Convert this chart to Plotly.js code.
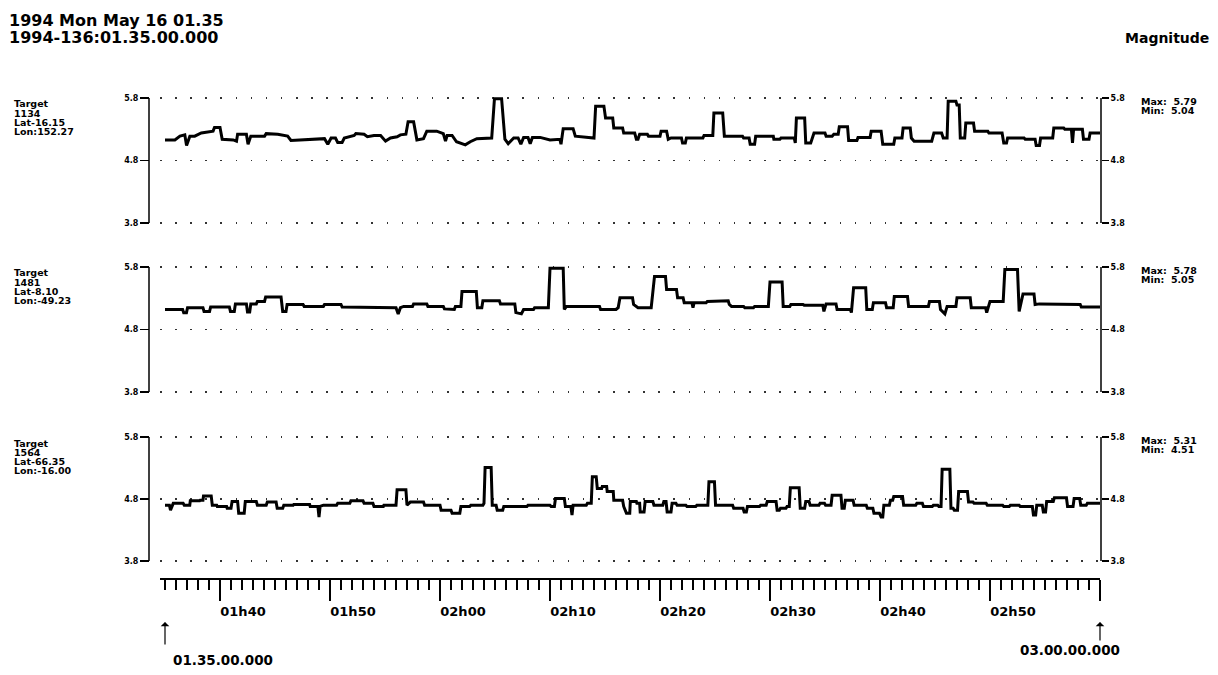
<!DOCTYPE html>
<html><head><meta charset="utf-8">
<script src="https://cdn.plot.ly/plotly-3.0.1.min.js"></script>
<style>html,body{margin:0;padding:0;background:#fff}#chart{width:1218px;height:675px}</style>
</head><body><div id="chart"></div>
<script>
const W = 1218, H = 675;

// ---- data: minutes after 01:35 and magnitude ----
const t1 = [0,0.9,1.36,1.8,1.96,2.26,2.7,3.3,4.37,4.5,5.0,5.2,6.2,6.5,6.6,7.4,7.55,7.8,9.05,9.2,10.25,11.15,11.45,14.5,14.8,15.1,15.5,15.7,16.1,16.3,17.2,17.35,18.1,18.4,19.0,19.6,20.05,20.5,21.1,21.4,21.9,22.1,22.6,22.9,23.5,23.8,24.7,25.3,25.5,25.65,26.1,26.5,27.3,27.75,28.35,29.7,29.95,30.6,30.9,31.2,31.7,32.1,32.35,32.6,33.0,33.2,33.4,34.1,35.0,
  35.9,36.0,36.2,37.1,37.3,39.0,39.15,39.9,40.05,40.7,40.8,41.6,41.7,42.7,42.85,43.0,43.15,43.85,43.95,45.0,45.1,45.6,45.75,46.0,46.95,47.05,47.3,47.4,48.9,49.0,49.8,49.9,50.7,50.85,52.5,52.6,53.1,53.2,53.6,53.7,55.3,55.35,55.9,56.0,57.2,57.3,57.4,58.15,58.25,58.7,59.0,60.0,60.1,60.65,60.8,61.2,61.3,62.05,62.15,62.9,63.0,64.1,64.2,65.1,65.25,66.25,66.35,67.0,67.1,67.75,67.85,68.1,69.7,69.9,70.6,70.75,71.1,71.2,71.9,72.0,72.2,72.3,72.7,72.8,73.5,73.6,74.8,74.9,76.1,76.25,76.5,76.6,78.1,78.2,79.1,79.2,79.5,79.6,80.7,80.8,81.7,81.8,82.4,82.5,82.6,83.4,83.5,84.0,84.1,85.0];
const mag1 = [5.13,5.13,5.19,5.21,5.04,5.19,5.19,5.24,5.27,5.33,5.33,5.14,5.13,5.11,5.22,5.22,5.06,5.19,5.19,5.23,5.22,5.19,5.12,5.15,5.06,5.16,5.16,5.09,5.09,5.16,5.2,5.23,5.22,5.18,5.2,5.2,5.11,5.16,5.18,5.21,5.22,5.42,5.42,5.13,5.15,5.27,5.27,5.23,5.11,5.2,5.2,5.1,5.05,5.1,5.15,5.16,5.79,5.79,5.14,5.07,5.16,5.16,5.06,5.17,5.17,5.07,5.17,5.17,5.13,
  5.14,5.06,5.31,5.31,5.19,5.16,5.67,5.67,5.48,5.48,5.32,5.32,5.24,5.24,5.14,5.14,5.22,5.22,5.19,5.19,5.27,5.27,5.14,5.16,5.16,5.08,5.08,5.16,5.16,5.2,5.2,5.56,5.56,5.19,5.19,5.16,5.16,5.06,5.06,5.19,5.19,5.14,5.14,5.16,5.16,5.08,5.48,5.48,5.08,5.08,5.24,5.24,5.19,5.19,5.22,5.22,5.34,5.34,5.12,5.12,5.17,5.17,5.27,5.27,5.06,5.06,5.16,5.16,5.32,5.32,5.16,5.11,5.11,5.24,5.24,5.16,5.16,5.75,5.75,5.69,5.69,5.16,5.16,5.4,5.4,5.27,5.27,5.24,5.24,5.08,5.08,5.16,5.16,5.14,5.14,5.04,5.04,5.16,5.16,5.32,5.32,5.3,5.3,5.08,5.3,5.3,5.14,5.14,5.24,5.24];

const t2 = [0,1.6,1.7,1.95,2.05,3.45,3.55,4.05,4.15,5.85,5.95,6.3,6.4,7.4,7.5,7.7,7.8,8.3,8.4,9.05,9.15,10.55,10.7,11.0,11.1,12.55,12.65,14.4,14.5,16.0,16.1,18.6,18.7,21.0,21.2,21.4,21.7,22.5,22.6,23.8,23.9,25.3,25.4,26.3,26.4,26.9,27.0,28.3,28.4,28.8,28.9,30.4,30.5,31.8,31.9,32.4,32.6,33.5,33.6,34.85,35.0,36.2,36.3,36.5,39.5,39.6,41.0,41.2,41.36,42.5,42.6,43.0,44.2,44.5,45.5,45.6,46.5,46.6,47.1,47.2,47.9,48.0,48.1,49.2,49.3,50.2,50.3,51.2,51.3,51.5,52.6,52.7,53.5,53.6,54.85,55.0,56.1,56.2,56.8,56.9,58.0,58.1,59.8,59.9,60.1,61.0,61.1,62.3,62.4,62.6,63.7,63.8,64.3,64.4,65.5,65.6,66.2,66.3,67.5,67.6,69.4,69.5,70.4,70.5,70.9,71.1,71.9,72.0,73.2,73.3,74.6,74.7,75.0,76.2,76.35,77.5,77.65,78.0,79.0,79.1,79.5,82.3,82.4,83.2,83.3,85.0];
const mag2 = [5.12,5.12,5.07,5.07,5.15,5.15,5.09,5.09,5.16,5.16,5.09,5.09,5.21,5.21,5.08,5.08,5.21,5.21,5.25,5.25,5.32,5.32,5.09,5.09,5.2,5.2,5.17,5.17,5.2,5.2,5.16,5.16,5.15,5.15,5.05,5.15,5.17,5.17,5.21,5.21,5.17,5.17,5.13,5.12,5.17,5.17,5.41,5.41,5.15,5.15,5.26,5.26,5.21,5.21,5.07,5.05,5.12,5.12,5.15,5.15,5.78,5.78,5.12,5.17,5.17,5.12,5.12,5.15,5.31,5.31,5.2,5.15,5.15,5.65,5.65,5.44,5.44,5.31,5.31,5.23,5.23,5.15,5.23,5.23,5.25,5.25,5.26,5.26,5.2,5.17,5.17,5.15,5.15,5.17,5.17,5.56,5.56,5.17,5.17,5.2,5.2,5.19,5.19,5.09,5.21,5.21,5.12,5.12,5.07,5.47,5.47,5.12,5.12,5.23,5.23,5.15,5.15,5.33,5.33,5.17,5.17,5.25,5.25,5.12,5.05,5.17,5.17,5.31,5.31,5.15,5.15,5.07,5.25,5.25,5.76,5.76,5.09,5.37,5.37,5.2,5.21,5.21,5.2,5.2,5.16,5.16];

const t3 = [0,0.4,0.5,0.75,1.65,1.75,2.25,2.3,3.15,3.2,3.45,3.5,4.2,4.3,4.7,4.75,5.6,5.65,6.0,6.1,6.6,6.7,7.2,7.3,8.3,8.4,9.2,9.3,10.1,10.2,10.7,10.8,11.65,11.7,13.15,13.2,13.9,14.0,14.1,14.4,15.6,15.7,16.8,16.9,18.0,18.1,18.9,19.0,19.85,19.9,21.0,21.1,21.9,22.0,22.3,23.5,23.6,25.0,25.1,26.0,26.1,26.8,26.9,27.7,27.8,28.9,29.0,29.1,29.65,29.75,30.1,30.2,30.7,30.8,32.9,33.0,35.0,35.1,35.4,35.5,36.3,36.4,36.9,37.0,37.1,38.3,38.4,38.75,38.85,39.2,39.3,39.7,39.75,40.15,40.2,40.75,40.8,41.6,41.7,41.95,42.25,42.3,42.85,42.9,43.15,43.2,43.55,43.65,44.35,44.45,45.25,45.35,45.55,45.65,46.0,46.1,46.45,46.55,47.35,47.45,48.25,48.35,49.35,49.45,49.95,50.05,51.6,51.7,52.55,52.65,52.85,52.95,54.05,54.15,54.65,54.75,55.55,55.65,55.85,55.95,56.45,56.55,56.75,56.85,57.65,57.75,58.15,58.25,58.55,58.65,59.45,59.55,59.95,60.05,60.55,60.65,61.45,61.55,61.75,61.85,62.55,62.65,63.75,63.85,64.35,64.45,64.95,65.1,65.25,65.35,65.85,65.95,66.15,66.25,67.05,67.15,68.25,68.35,68.85,68.95,69.75,69.85,70.25,70.35,70.55,70.65,71.35,71.45,71.65,71.75,72.05,72.15,72.95,73.05,73.45,73.55,74.65,74.75,76.15,76.25,76.75,76.85,77.65,77.75,78.85,78.95,79.15,79.25,79.75,79.85,80.05,80.15,80.75,80.85,81.95,82.05,82.55,82.65,83.15,83.25,83.75,83.85,85.0];
const mag3 = [4.70,4.70,4.62,4.73,4.73,4.70,4.70,4.77,4.77,4.78,4.78,4.85,4.85,4.70,4.70,4.68,4.68,4.65,4.65,4.76,4.76,4.57,4.57,4.76,4.76,4.70,4.70,4.75,4.75,4.65,4.65,4.70,4.70,4.71,4.71,4.68,4.68,4.51,4.68,4.70,4.70,4.73,4.73,4.77,4.77,4.73,4.73,4.68,4.68,4.70,4.70,4.95,4.95,4.70,4.75,4.75,4.70,4.70,4.62,4.62,4.57,4.57,4.68,4.68,4.70,4.70,4.73,5.31,5.31,4.70,4.70,4.62,4.62,4.68,4.68,4.70,4.70,4.68,4.68,4.81,4.81,4.68,4.68,4.54,4.70,4.70,4.73,4.73,5.16,5.16,4.97,4.97,5.0,5.0,4.92,4.92,4.78,4.78,4.68,4.57,4.57,4.76,4.76,4.73,4.73,4.59,4.59,4.76,4.76,4.70,4.70,4.76,4.76,4.59,4.59,4.73,4.73,4.70,4.70,4.68,4.68,4.70,4.70,5.08,5.08,4.70,4.70,4.65,4.65,4.59,4.59,4.68,4.68,4.70,4.70,4.76,4.76,4.62,4.62,4.65,4.65,4.68,4.68,4.98,4.98,4.65,4.65,4.76,4.76,4.70,4.70,4.73,4.73,4.70,4.70,4.86,4.86,4.65,4.65,4.78,4.78,4.70,4.70,4.65,4.65,4.57,4.57,4.51,4.51,4.70,4.70,4.78,4.78,4.84,4.84,4.70,4.70,4.73,4.73,4.68,4.68,4.70,4.70,4.68,4.68,5.28,5.28,4.65,4.65,4.62,4.62,4.92,4.92,4.75,4.75,4.73,4.73,4.70,4.70,4.68,4.68,4.70,4.70,4.68,4.68,4.54,4.54,4.70,4.70,4.59,4.59,4.76,4.76,4.82,4.82,4.68,4.68,4.81,4.81,4.70,4.70,4.73,4.73];

const times = [t1, t2, t3];
const mags = [mag1, mag2, mag3];
const targetIds = ['1134', '1481', '1564'];
const lats = ['Lat-16.15', 'Lat-8.10', 'Lat-66.35'];
const lons = ['Lon:152.27', 'Lon:-49.23', 'Lon:-16.00'];
const maxVals = ['5.79', '5.78', '5.31'];
const minVals = ['5.04', '5.05', '4.51'];
const yTicks = [3.8, 4.8, 5.8];
const yTickText = ['3.8', '4.8', '5.8'];
const xTickVals = [5, 15, 25, 35, 45, 55, 65, 75, 85];
const xTickText = ['01h40', '01h50', '02h00', '02h10', '02h20', '02h30', '02h40', '02h50', ''];
const tStart = 0, tEnd = 85;
const startLabel = '01.35.00.000', endLabel = '03.00.00.000';
const titleLines = ['1994 Mon May 16 01.35', '1994-136:01.35.00.000'];

// ---- layout helpers (pixel geometry) ----
const FONT = 'DejaVu Sans';
const px = x => x / W;
const py = y => 1 - y / H;
const panelPx = [[98, 223], [267, 392], [437, 561]];
const EPS = 0.025; // small padding so the 3.8 / 5.8 grid rows are drawn

const data = [];
const layout = {
  width: W, height: H,
  margin: {l: 0, r: 0, t: 0, b: 0},
  paper_bgcolor: '#fff', plot_bgcolor: 'rgba(0,0,0,0)',
  showlegend: false,
  font: {family: FONT, color: '#000'},
  xaxis: {
    domain: [px(160), px(1100)],
    range: [-5 / 11, 85],
    anchor: 'free', position: py(578),
    showline: true, linecolor: '#000', linewidth: 1.5,
    ticks: 'outside', ticklen: 21, tickwidth: 1.3, tickcolor: '#000',
    tickmode: 'array', tickvals: xTickVals, ticktext: xTickText,
    ticklabelshift: 23,
    tickfont: {family: FONT, size: 13, weight: 'bold', color: '#000'},
    minor: {dtick: 1, tick0: 0, ticks: 'outside', ticklen: 10, tickwidth: 1.2, tickcolor: '#000', showgrid: false},
    showgrid: false, zeroline: false, fixedrange: true
  },
  shapes: [],
  annotations: []
};

for (let i = 0; i < 3; i++) {
  const [top, bot] = panelPx[i];
  const ppu = (bot - top) / 2; // pixels per magnitude unit
  const yl = i === 0 ? 'yaxis' : 'yaxis' + (i + 1);
  const yr = 'yaxis' + (i + 4);
  const ylId = i === 0 ? 'y' : 'y' + (i + 1);
  const yrId = 'y' + (i + 4);
  const dom = [py(bot + EPS * ppu), py(top - EPS * ppu)];
  const rng = [3.8 - EPS, 5.8 + EPS];
  layout[yl] = {
    domain: dom, range: rng, anchor: 'free', position: px(149),
    showline: false,
    ticks: 'outside', ticklen: 9, tickwidth: 1.3, tickcolor: '#000',
    tickmode: 'array', tickvals: yTicks, ticktext: yTickText,
    tickfont: {family: FONT, size: 8, weight: 'bold', color: '#000'},
    showgrid: true, gridcolor: '#333', gridwidth: 1.6, griddash: '1.6px,13.5px',
    zeroline: false, fixedrange: true
  };
  layout[yr] = {
    domain: dom, range: rng, overlaying: ylId, side: 'right', anchor: 'free', position: px(1101),
    showline: false,
    ticks: 'outside', ticklen: 7, tickwidth: 1.3, tickcolor: '#000',
    tickmode: 'array', tickvals: yTicks, ticktext: yTickText,
    tickfont: {family: FONT, size: 8, weight: 'bold', color: '#000'},
    showgrid: false, zeroline: false, fixedrange: true
  };
  data.push({
    x: times[i], y: mags[i], xaxis: 'x', yaxis: ylId, type: 'scatter', mode: 'lines',
    line: {color: '#000', width: 3}, hoverinfo: 'skip'
  });
  data.push({
    x: times[i], y: mags[i], xaxis: 'x', yaxis: yrId, type: 'scatter', mode: 'lines',
    line: {color: '#000', width: 0}, opacity: 0, hoverinfo: 'skip'
  });
  // bracket lines spanning exactly 3.8 .. 5.8
  [149, 1101].forEach(xp => {
    layout.shapes.push({
      type: 'line', xref: 'paper', yref: ylId, x0: px(xp), x1: px(xp), y0: 3.8, y1: 5.8,
      line: {color: '#000', width: 1.5}
    });
  });
  const labels = ['Target', targetIds[i], lats[i], lons[i]];
  labels.forEach((s, k) => {
    layout.annotations.push({
      xref: 'paper', yref: 'paper', x: px(12), y: py(top + 6 + k * 9.3),
      xanchor: 'left', yanchor: 'middle', showarrow: false, text: s,
      font: {family: FONT, size: 9.5, weight: 'bold', color: '#000'}
    });
  });
  ['Max:  ' + maxVals[i], 'Min:  ' + minVals[i]].forEach((s, k) => {
    layout.annotations.push({
      xref: 'paper', yref: 'paper', x: px(1139), y: py(top + 3 + k * 9.3),
      xanchor: 'left', yanchor: 'middle', showarrow: false, text: s,
      font: {family: FONT, size: 9.5, weight: 'bold', color: '#000'}
    });
  });
}

// titles
titleLines.forEach((s, k) => {
  layout.annotations.push({
    xref: 'paper', yref: 'paper', x: px(7), y: py(21 + k * 16.5),
    xanchor: 'left', yanchor: 'middle', showarrow: false, text: s,
    font: {family: FONT, size: 16, weight: 'bold', color: '#000'}
  });
});
layout.annotations.push({
  xref: 'paper', yref: 'paper', x: px(1211), y: py(38),
  xanchor: 'right', yanchor: 'middle', showarrow: false, text: 'Magnitude',
  font: {family: FONT, size: 14, weight: 'bold', color: '#000'}
});

// start / end markers
layout.annotations.push({
  xref: 'x', yref: 'paper', x: tStart, y: py(622), ax: 0, ay: 24, axref: 'pixel', ayref: 'pixel',
  text: '', showarrow: true, arrowhead: 1, arrowsize: 1.2, arrowwidth: 1.2, arrowcolor: '#000'
});
layout.annotations.push({
  xref: 'x', yref: 'paper', x: tEnd, y: py(622), ax: 0, ay: 20, axref: 'pixel', ayref: 'pixel',
  text: '', showarrow: true, arrowhead: 1, arrowsize: 1.2, arrowwidth: 1.2, arrowcolor: '#000'
});
layout.annotations.push({
  xref: 'paper', yref: 'paper', x: px(171), y: py(660),
  xanchor: 'left', yanchor: 'middle', showarrow: false, text: startLabel,
  font: {family: FONT, size: 13.5, weight: 'bold', color: '#000'}
});
layout.annotations.push({
  xref: 'paper', yref: 'paper', x: px(1122), y: py(650),
  xanchor: 'right', yanchor: 'middle', showarrow: false, text: endLabel,
  font: {family: FONT, size: 13.5, weight: 'bold', color: '#000'}
});

Plotly.newPlot('chart', data, layout, {staticPlot: true, displayModeBar: false});
</script>
</body></html>
